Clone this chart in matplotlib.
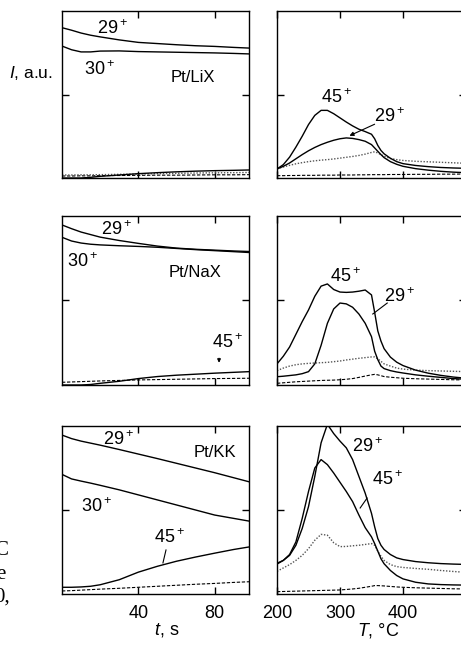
import matplotlib
matplotlib.use("Agg")
import matplotlib.pyplot as plt

plt.rcParams["font.family"] = "Liberation Sans"
plt.rcParams["mathtext.fontset"] = "custom"
plt.rcParams["mathtext.rm"] = "Liberation Sans"
plt.rcParams["mathtext.it"] = "Liberation Sans:italic"

# ---- isothermal part: time, s ----
t = [0, 5, 10, 15, 20, 30, 40, 50, 60, 70, 80, 90, 98]

lix_29 = [0.90, 0.885, 0.868, 0.855, 0.845, 0.827, 0.812, 0.805, 0.798, 0.792, 0.788, 0.782, 0.778]
lix_30 = [0.79, 0.768, 0.755, 0.755, 0.76, 0.761, 0.757, 0.755, 0.753, 0.751, 0.749, 0.746, 0.743]
lix_45 = [0.0, 0.0, 0.0, 0.004, 0.01, 0.018, 0.026, 0.032, 0.037, 0.041, 0.044, 0.046, 0.048]
lix_dot = [0.018, 0.018, 0.019, 0.019, 0.02, 0.022, 0.024, 0.026, 0.028, 0.03, 0.031, 0.032, 0.033]
lix_dash = [0.012, 0.012, 0.013, 0.013, 0.014, 0.015, 0.016, 0.017, 0.017, 0.018, 0.019, 0.019, 0.02]

nax_29 = [0.947, 0.925, 0.905, 0.89, 0.875, 0.855, 0.838, 0.822, 0.81, 0.803, 0.798, 0.793, 0.79]
nax_30 = [0.874, 0.852, 0.84, 0.833, 0.829, 0.824, 0.82, 0.815, 0.808, 0.801, 0.795, 0.789, 0.784]
nax_45 = [0.0, 0.0, 0.0, 0.003, 0.01, 0.022, 0.038, 0.05, 0.058, 0.064, 0.07, 0.075, 0.079]
nax_dash = [0.016, 0.018, 0.02, 0.022, 0.024, 0.027, 0.03, 0.032, 0.034, 0.036, 0.038, 0.039, 0.04]

kk_29 = [0.946, 0.925, 0.91, 0.898, 0.886, 0.86, 0.833, 0.806, 0.778, 0.75, 0.722, 0.692, 0.668]
kk_30 = [0.712, 0.685, 0.672, 0.66, 0.647, 0.62, 0.59, 0.56, 0.53, 0.5, 0.47, 0.45, 0.434]
kk_45 = [0.04, 0.04, 0.042, 0.046, 0.055, 0.085, 0.13, 0.165, 0.195, 0.22, 0.243, 0.265, 0.28]
kk_dash = [0.018, 0.02, 0.023, 0.026, 0.029, 0.034, 0.04, 0.046, 0.052, 0.058, 0.063, 0.069, 0.073]

# ---- TPD part: temperature, C ----
T = [200, 210, 220, 230, 240, 250, 260, 270, 280, 290, 300, 310, 320, 330,
     340, 350, 355, 360, 365, 370, 380, 390, 400, 420, 440, 460, 480, 500]

tpd_lix_45 = [0.054, 0.08, 0.125, 0.185, 0.25, 0.32, 0.375, 0.405, 0.405, 0.385, 0.36, 0.335, 0.312, 0.292,
              0.278, 0.262, 0.235, 0.195, 0.165, 0.145, 0.118, 0.098, 0.086, 0.075, 0.068, 0.063, 0.06, 0.058]
tpd_lix_29 = [0.054, 0.07, 0.09, 0.115, 0.14, 0.163, 0.183, 0.2, 0.214, 0.226, 0.235, 0.24, 0.237, 0.23,
              0.22, 0.2, 0.18, 0.16, 0.14, 0.122, 0.098, 0.082, 0.07, 0.056, 0.047, 0.04, 0.035, 0.032]
tpd_lix_dot = [0.056, 0.066, 0.076, 0.085, 0.092, 0.098, 0.103, 0.107, 0.11, 0.114, 0.119, 0.124, 0.129, 0.135,
               0.143, 0.153, 0.157, 0.15, 0.14, 0.13, 0.117, 0.11, 0.105, 0.1, 0.097, 0.094, 0.091, 0.088]
tpd_lix_dash = [0.014, 0.014, 0.015, 0.015, 0.016, 0.016, 0.016, 0.017, 0.017, 0.017, 0.018, 0.018, 0.018, 0.019,
                0.019, 0.02, 0.02, 0.02, 0.02, 0.02, 0.021, 0.021, 0.021, 0.022, 0.022, 0.023, 0.023, 0.024]

tpd_nax_45 = [0.125, 0.17, 0.225, 0.3, 0.375, 0.444, 0.525, 0.585, 0.598, 0.565, 0.55, 0.548, 0.55, 0.555,
              0.562, 0.533, 0.43, 0.32, 0.26, 0.215, 0.165, 0.135, 0.115, 0.088, 0.07, 0.057, 0.047, 0.04]
tpd_nax_29 = [0.049, 0.052, 0.056, 0.06, 0.067, 0.079, 0.125, 0.235, 0.365, 0.45, 0.485, 0.48, 0.46, 0.42,
              0.365, 0.286, 0.2, 0.15, 0.112, 0.097, 0.085, 0.077, 0.071, 0.06, 0.052, 0.045, 0.038, 0.034]
tpd_nax_dot = [0.085, 0.1, 0.112, 0.12, 0.125, 0.128, 0.13, 0.132, 0.134, 0.138, 0.142, 0.148, 0.153, 0.158,
               0.162, 0.166, 0.166, 0.155, 0.14, 0.125, 0.112, 0.1, 0.094, 0.088, 0.085, 0.083, 0.081, 0.079]
tpd_nax_dash = [0.01, 0.013, 0.016, 0.019, 0.021, 0.023, 0.025, 0.027, 0.028, 0.029, 0.031, 0.034, 0.038, 0.045,
                0.053, 0.06, 0.063, 0.06, 0.055, 0.05, 0.046, 0.043, 0.04, 0.037, 0.035, 0.033, 0.031, 0.03]

tpd_kk_29 = [0.178, 0.2, 0.23, 0.29, 0.39, 0.52, 0.7, 0.9, 1.01, 0.955, 0.91, 0.87, 0.8, 0.7,
             0.6, 0.48, 0.4, 0.33, 0.29, 0.265, 0.235, 0.215, 0.205, 0.193, 0.186, 0.181, 0.178, 0.176]
tpd_kk_45 = [0.183, 0.2, 0.235, 0.31, 0.45, 0.61, 0.75, 0.8, 0.77, 0.72, 0.665, 0.61, 0.55, 0.47,
             0.395, 0.34, 0.3, 0.255, 0.21, 0.18, 0.14, 0.11, 0.09, 0.07, 0.06, 0.056, 0.054, 0.053]
tpd_kk_dot = [0.135, 0.155, 0.175, 0.2, 0.23, 0.27, 0.32, 0.355, 0.35, 0.305, 0.282, 0.283, 0.287, 0.29,
              0.295, 0.3, 0.29, 0.255, 0.225, 0.2, 0.175, 0.163, 0.158, 0.152, 0.147, 0.14, 0.134, 0.129]
tpd_kk_dash = [0.014, 0.015, 0.016, 0.017, 0.018, 0.019, 0.02, 0.021, 0.022, 0.023, 0.024, 0.027, 0.03, 0.034,
               0.04, 0.046, 0.05, 0.05, 0.049, 0.048, 0.045, 0.042, 0.04, 0.037, 0.035, 0.033, 0.031, 0.03]

catalysts = ["Pt/LiX", "Pt/NaX", "Pt/KK"]


def sup(s):
    return r"$\mathregular{" + s + "^+}$"


solid = dict(color="black", lw=1.0)
dotted = dict(color="#555555", lw=1.0, ls=(0, (1, 1.2)))
dashed = dict(color="black", lw=0.8, ls=(0, (3, 1.5)))

fig = plt.figure(figsize=(4.61, 6.45), dpi=100)

# axes boxes in pixels: (top, bottom)
rows_px = [(11, 178), (216, 385), (426, 594)]
W, H = 461.0, 645.0
axes = []
for top, bot in rows_px:
    a_l = fig.add_axes([62 / W, 1 - bot / H, 187 / W, (bot - top) / H])
    a_r = fig.add_axes([277 / W, 1 - bot / H, 189 / W, (bot - top) / H])
    axes.append((a_l, a_r))

for i, (al, ar) in enumerate(axes):
    al.set_xlim(0, 98)
    ar.set_xlim(200, 500)
    for ax in (al, ar):
        ax.set_ylim(0, 1)
        ax.set_yticks([0.5])
        ax.set_yticklabels([])
        ax.tick_params(direction="in", length=5, width=1.0, top=True, right=True,
                       labelsize=13, pad=8)
        for sp in ax.spines.values():
            sp.set_linewidth(1.0)
    al.set_xticks([40, 80])
    ar.set_xticks([200, 300, 400])
    if i < 2:
        al.set_xticklabels([])
        ar.set_xticklabels([])

# Pt/LiX
al, ar = axes[0]
al.plot(t, lix_dash, **dashed)
al.plot(t, lix_dot, **dotted)
al.plot(t, lix_29, **solid)
al.plot(t, lix_30, **solid)
al.plot(t, lix_45, **solid)
al.text(26.7, 0.892, sup("29"), fontsize=13, ha="center", va="center")
al.text(19.9, 0.647, sup("30"), fontsize=13, ha="center", va="center")
al.text(68.7, 0.599, catalysts[0], fontsize=12, ha="center", va="center")

ar.plot(T, tpd_lix_dash, **dashed)
ar.plot(T, tpd_lix_dot, **dotted)
ar.plot(T, tpd_lix_45, **solid)
ar.plot(T, tpd_lix_29, **solid)
ar.text(295, 0.479, sup("45"), fontsize=13, ha="center", va="center")
ar.text(379, 0.365, sup("29"), fontsize=13, ha="center", va="center")
ar.annotate("", xy=(311, 0.246), xytext=(359, 0.329),
            arrowprops=dict(arrowstyle="-|>", lw=0.8, color="black", mutation_scale=6))

# Pt/NaX
al, ar = axes[1]
al.plot(t, nax_dash, **dashed)
al.plot(t, nax_29, **solid)
al.plot(t, nax_30, **solid)
al.plot(t, nax_45, **solid)
al.text(28.8, 0.917, sup("29"), fontsize=13, ha="center", va="center")
al.text(11, 0.728, sup("30"), fontsize=13, ha="center", va="center")
al.text(69.7, 0.663, catalysts[1], fontsize=12, ha="center", va="center")
al.text(86.5, 0.249, sup("45"), fontsize=13, ha="center", va="center")
al.annotate("", xy=(82.3, 0.115), xytext=(82.3, 0.175),
            arrowprops=dict(arrowstyle="-|>", lw=0.8, color="black", mutation_scale=5))

ar.plot(T, tpd_nax_dash, **dashed)
ar.plot(T, tpd_nax_dot, **dotted)
ar.plot(T, tpd_nax_45, **solid)
ar.plot(T, tpd_nax_29, **solid)
ar.text(308, 0.639, sup("45"), fontsize=13, ha="center", va="center")
ar.text(395, 0.521, sup("29"), fontsize=13, ha="center", va="center")
ar.plot([375, 352], [0.485, 0.42], color="black", lw=0.8)

# Pt/KK
al, ar = axes[2]
al.plot(t, kk_dash, **dashed)
al.plot(t, kk_29, **solid)
al.plot(t, kk_30, **solid)
al.plot(t, kk_45, **solid)
al.text(29.4, 0.917, sup("29"), fontsize=13, ha="center", va="center")
al.text(80.2, 0.845, catalysts[2], fontsize=12, ha="center", va="center")
al.text(18.3, 0.518, sup("30"), fontsize=13, ha="center", va="center")
al.text(56.6, 0.333, sup("45"), fontsize=13, ha="center", va="center")
al.plot([54.5, 52.9], [0.262, 0.185], color="black", lw=0.8)
al.set_xlabel(r"$\it{t}$, s", fontsize=13)
al.xaxis.set_label_coords(0.56, -0.16)

ar.plot(T, tpd_kk_dash, **dashed)
ar.plot(T, tpd_kk_dot, **dotted)
ar.plot(T, tpd_kk_29, **solid)
ar.plot(T, tpd_kk_45, **solid)
ar.text(344, 0.875, sup("29"), fontsize=13, ha="center", va="center")
ar.text(376, 0.679, sup("45"), fontsize=13, ha="center", va="center")
ar.plot([343, 332], [0.571, 0.512], color="black", lw=0.8)
ar.set_xlabel(r"$\it{T}$, °C", fontsize=13)
ar.xaxis.set_label_coords(0.534, -0.16)

# y-axis label
fig.text(31 / W, 1 - 73 / H, r"$\it{I}$, a.u.", fontsize=12.5, ha="center", va="center")

# fragments of the page text on the left edge (cut off in the source too)
for s, xr, yb in [("C", 7.5, 555), ("e", 5.5, 579), ("0,", 10, 602)]:
    fig.text(xr / W, 1 - yb / H, s, fontsize=15, ha="right", va="baseline",
             family="Liberation Serif")

fig.savefig("out.png", dpi=100)
